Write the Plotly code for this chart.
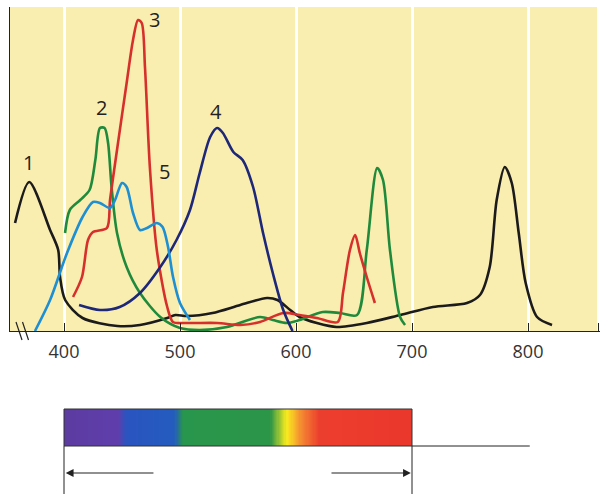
import numpy as np
import plotly.graph_objects as go

# ---------------- data (relative absorbance, wavelength in nm) ----------------
wl_1 = [357.8, 370, 388, 395, 396.6, 401, 416, 446, 465.5, 489, 496, 506, 528, 552, 575, 584, 595,
        603, 618, 635, 661, 690, 718, 747.4, 758.6, 767, 773, 780, 786, 792, 798, 807.8, 820.7]
ab_1 = [108, 149, 101, 81, 54, 31, 13, 5, 6, 13, 16, 15, 18, 26, 33, 31, 21,
        14, 8, 4, 8, 16, 24, 28, 36, 64, 131, 164, 148, 98, 48, 14, 6]

wl_2 = [400.9, 405, 414, 422, 427, 431, 435, 438, 441, 445.7, 454, 465.5, 483, 500, 517, 540.5, 569,
        580, 592, 603, 623, 638, 652.6, 661, 670, 675, 681, 689.7, 694]
ab_2 = [98, 121, 131, 141, 171, 203, 203, 188, 144, 98, 64, 38, 14, 3, 1, 4, 14,
        11, 8, 11, 19, 18, 16, 81, 163, 151, 81, 14, 6]

wl_3 = [407.8, 415.5, 420.7, 425, 437, 439.7, 445.7, 454, 459.5, 463.8, 467, 469.8, 474, 480, 489, 494,
        506, 532, 552, 569, 589, 603, 618, 636, 640.5, 646.5, 651, 655, 661, 668]
ab_3 = [34, 54, 91, 99, 103, 131, 181, 248, 291, 311, 308, 264, 164, 81, 24, 9,
        8, 8, 6, 9, 18, 16, 13, 9, 38, 81, 96, 78, 54, 28]

wl_4 = [413, 431, 448, 465.5, 483, 497, 508.6, 517, 526, 532, 537, 546, 554, 563, 571.6, 580, 589, 597]
ab_4 = [26, 21, 24, 38, 64, 91, 121, 158, 194, 203, 198, 179, 171, 144, 98, 58, 21, 0]

wl_5 = [375, 388, 402.6, 416, 425, 431, 439.7, 444, 450, 454, 459.5, 465.5, 471.6, 480, 485, 489.7,
        494, 500, 508.6]
ab_5 = [0, 31, 78, 114, 129, 128, 123, 131, 148, 144, 118, 101, 103, 108, 104, 84, 54, 28, 11]

curve_labels = ["1", "2", "3", "4", "5"]
label_wl = [369.8, 431.9, 478.4, 531, 487]
label_ab = [168, 223, 311, 219, 159]

tick_vals = [400, 500, 600, 700, 800]
tick_text = ["400", "500", "600", "700", "800"]

# visible spectrum (nm) and its colours
spec_wl = [400, 446, 454, 495, 503, 578, 592, 604, 620, 700]
spec_col = ["rgb(92,60,160)", "rgb(95,62,172)", "rgb(42,84,192)", "rgb(36,92,190)",
            "rgb(40,150,76)", "rgb(44,150,72)", "rgb(250,236,30)", "rgb(245,140,50)",
            "rgb(236,62,46)", "rgb(234,56,44)"]

# ---------------- figure ----------------
W, H = 605, 504
X_RANGE = [353.45, 862.07]
Y_RANGE = [0, 324]


def py(pix):
    return (H - pix) / H


colors = ["#1b1b1b", "#1f8a3b", "#d6302c", "#1e2878", "#1d8fd3"]
series = [(wl_1, ab_1), (wl_2, ab_2), (wl_3, ab_3), (wl_4, ab_4), (wl_5, ab_5)]

fig = go.Figure()
for (wl, ab), c in zip(series, colors):
    fig.add_trace(go.Scatter(x=wl, y=ab, mode="lines",
                             line=dict(color=c, width=2.6, shape="spline", smoothing=0.8),
                             hoverinfo="skip", showlegend=False))

# spectrum bar as heatmap
edges = np.arange(400, 701, 1)
centers = (edges[:-1] + edges[1:]) / 2
cs = [[(w - 400) / 300, c] for w, c in zip(spec_wl, spec_col)]
fig.add_trace(go.Heatmap(x=edges, y=[0, 1], z=[centers], zmin=400, zmax=700,
                         colorscale=cs, showscale=False, hoverinfo="skip",
                         xaxis="x2", yaxis="y2"))

for t, w, a in zip(curve_labels, label_wl, label_ab):
    fig.add_annotation(x=w, y=a, text=t, showarrow=False,
                       font=dict(size=20, color="#222", family="Open Sans"))

shapes = []
# yellow chart background (below the white gridlines)
shapes.append(dict(type="rect", xref="x domain", yref="y domain", x0=0, x1=1, y0=0, y1=1,
                   layer="below", line=dict(width=0), fillcolor="rgb(250,237,176)"))
# bar outline
shapes.append(dict(type="rect", xref="x", yref="paper", x0=400, x1=700,
                   y0=py(446), y1=py(409), line=dict(color="#333", width=1)))
# horizontal line to the right
shapes.append(dict(type="line", xref="x", yref="paper", x0=700, x1=801.5,
                   y0=py(446), y1=py(446), line=dict(color="#222", width=1)))
# vertical limit lines
for w in (400, 700):
    shapes.append(dict(type="line", xref="x", yref="paper", x0=w, x1=w,
                       y0=py(446), y1=py(494), line=dict(color="#222", width=1)))
# axis break marks
for dx in (0, 6.5):
    shapes.append(dict(type="line", xref="paper", yref="paper",
                       x0=(16 + dx) / W, x1=(22 + dx) / W, y0=py(322), y1=py(340),
                       line=dict(color="#222", width=1.2)))
fig.update_layout(shapes=shapes)

# arrows
fig.add_annotation(x=401.5, y=py(473), ax=478.4, ay=0, xref="x", yref="paper",
                   axref="x", ayref="pixel", text="", showarrow=True,
                   arrowhead=2, arrowsize=1.3, arrowwidth=1.2, arrowcolor="#222")
fig.add_annotation(x=699, y=py(473), ax=629.3, ay=0, xref="x", yref="paper",
                   axref="x", ayref="pixel", text="", showarrow=True,
                   arrowhead=2, arrowsize=1.3, arrowwidth=1.2, arrowcolor="#222")

fig.update_layout(
    width=W, height=H, autosize=False,
    margin=dict(l=0, r=0, t=0, b=0),
    paper_bgcolor="white",
    plot_bgcolor="white",
    xaxis=dict(domain=[10 / W, 600 / W], range=X_RANGE,
               tickvals=tick_vals + [861], ticktext=tick_text + [""],
               ticks="inside", ticklen=8, tickcolor="#222", tickwidth=1,
               showline=True, linecolor="#222", linewidth=1.2,
               showgrid=True, gridcolor="white", gridwidth=3,
               zeroline=False, ticklabelstandoff=4,
               tickfont=dict(size=18, color="#333", family="Open Sans"),
               fixedrange=True),
    yaxis=dict(domain=[py(331), py(7)], range=Y_RANGE,
               tickvals=[324], ticktext=[""], ticks="inside", ticklen=4,
               tickcolor="#222", showline=True, linecolor="#222", linewidth=1.2,
               showgrid=False, zeroline=False, fixedrange=True),
    xaxis2=dict(domain=[10 / W, 600 / W], range=X_RANGE, matches="x",
                anchor="y2", visible=False),
    yaxis2=dict(domain=[py(446), py(409)], range=[0, 1], anchor="x2", visible=False),
)

fig.write_html("out.html", config={"displayModeBar": False},
               post_script="document.body.style.margin='0';document.body.style.overflow='hidden';")
